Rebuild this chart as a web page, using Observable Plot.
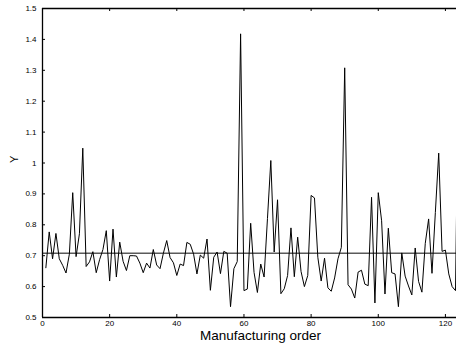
<!DOCTYPE html>
<html>
<head>
<meta charset="utf-8">
<script src="https://cdn.jsdelivr.net/npm/d3@7"></script>
<script src="https://cdn.jsdelivr.net/npm/@observablehq/plot@0.6"></script>
<style>
  html, body { margin: 0; padding: 0; background: #ffffff; }
  #chart { width: 456px; height: 347px; overflow: hidden; }
</style>
</head>
<body>
<div id="chart"></div>
<script>
// Y values for manufacturing order 1..124
const yValues = [
  0.661, 0.777, 0.690, 0.772, 0.690, 0.669, 0.644, 0.705, 0.904, 0.697,
  0.771, 1.048, 0.665, 0.680, 0.713, 0.645, 0.687, 0.720, 0.781, 0.618,
  0.786, 0.631, 0.744, 0.682, 0.652, 0.700, 0.700, 0.699, 0.676, 0.645,
  0.676, 0.660, 0.720, 0.670, 0.658, 0.708, 0.749, 0.694, 0.677, 0.636,
  0.673, 0.668, 0.743, 0.737, 0.705, 0.641, 0.702, 0.692, 0.754, 0.588,
  0.695, 0.712, 0.642, 0.714, 0.708, 0.535, 0.658, 0.681, 1.418, 0.587,
  0.592, 0.805, 0.646, 0.581, 0.673, 0.631, 0.820, 1.008, 0.712, 0.881,
  0.577, 0.593, 0.636, 0.790, 0.632, 0.760, 0.649, 0.600, 0.636, 0.895,
  0.887, 0.695, 0.618, 0.692, 0.596, 0.585, 0.628, 0.690, 0.727, 1.308,
  0.606, 0.592, 0.563, 0.647, 0.653, 0.608, 0.603, 0.889, 0.547, 0.904,
  0.813, 0.576, 0.789, 0.645, 0.641, 0.535, 0.709, 0.634, 0.602, 0.573,
  0.725, 0.617, 0.582, 0.740, 0.819, 0.643, 0.840, 1.032, 0.714, 0.718,
  0.641, 0.600, 0.587, 1.400
];
const order = yValues.map((_, i) => i + 1);
const meanLevel = [0.708];

const xTicks = [0, 20, 40, 60, 80, 100, 120];
const yTicks = [0.5, 0.6, 0.7, 0.8, 0.9, 1.0, 1.1, 1.2, 1.3, 1.4, 1.5];
const yTickLabels = ["0.5", "0.6", "0.7", "0.8", "0.9", "1", "1.1", "1.2", "1.3", "1.4", "1.5"];
const xDomain = [0, 123.3];
const yDomain = [0.5, 1.5];
const xLabel = "Manufacturing order";
const yLabel = "Y";

const data = order.map((o, i) => ({order: o, y: yValues[i]}));

const W = 456, H = 347, mT = 8, mB = 30, mL = 42, mR = 0;
const frameH = H - mT - mB, frameW = W - mL - mR, tick = 3;

const chart = Plot.plot({
  width: W,
  height: H,
  marginTop: mT,
  marginBottom: mB,
  marginLeft: mL,
  marginRight: mR,
  style: {fontFamily: "'Liberation Sans', Arial, Helvetica, sans-serif", fontSize: "8px", color: "black", background: "white"},
  x: {domain: xDomain},
  y: {domain: yDomain},
  marks: [
    Plot.ruleY(meanLevel, {stroke: "#5a5a5a", strokeWidth: 1.3}),
    Plot.line(data, {x: "order", y: "y", stroke: "black", strokeWidth: 1, clip: true}),
    // frame
    Plot.ruleY([yDomain[0]], {stroke: "black", strokeWidth: 1.3}),
    Plot.ruleY([yDomain[1]], {stroke: "black", strokeWidth: 1.3}),
    Plot.ruleX([xDomain[0]], {stroke: "black", strokeWidth: 1.3}),
    // inward ticks
    Plot.tickX(xTicks, {x: d => d, insetTop: frameH - tick, stroke: "black"}),
    Plot.tickX(xTicks, {x: d => d, insetBottom: frameH - tick, stroke: "black"}),
    Plot.tickY(yTicks, {y: d => d, insetRight: frameW - tick, stroke: "black"}),
    Plot.axisX(xTicks, {tickSize: 0, tickPadding: 3, label: null, fontSize: 8}),
    Plot.axisY(yTicks, {tickSize: 0, tickPadding: 6, label: null, fontSize: 8,
      tickFormat: d => yTickLabels[yTicks.indexOf(d)]}),
    Plot.text([xLabel], {frameAnchor: "bottom", dx: 11, dy: 22, fontSize: 13.5, fill: "black"}),
    Plot.text([yLabel], {frameAnchor: "left", rotate: -90, dx: -28, fontSize: 11, fill: "black"})
  ]
});
document.getElementById("chart").appendChild(chart);
</script>
</body>
</html>
